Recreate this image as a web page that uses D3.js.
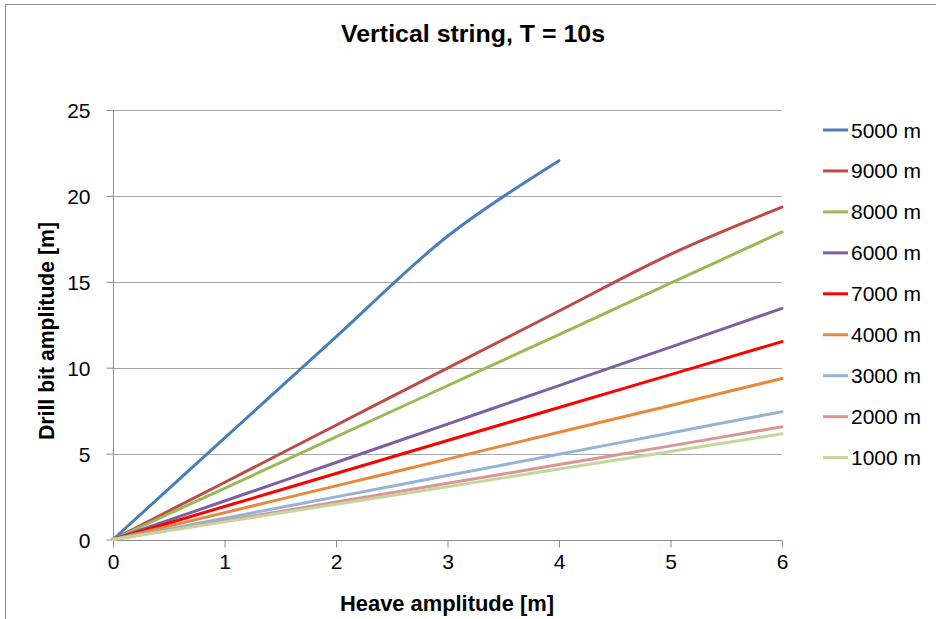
<!DOCTYPE html>
<html>
<head>
<meta charset="utf-8">
<script src="https://cdn.jsdelivr.net/npm/d3@7"></script>
<style>
  html, body { margin: 0; padding: 0; background: #fff; }
  svg { display: block; font-family: "Liberation Sans", Arial, sans-serif; }
</style>
</head>
<body>
<svg id="chart" width="936" height="619"></svg>
<script>
// ---- data ----
const heave = [0, 1, 2, 3, 4, 5, 6];
const seriesNames = ["5000 m", "9000 m", "8000 m", "6000 m", "7000 m", "4000 m", "3000 m", "2000 m", "1000 m"];
const s5000 = [0, 5.9, 11.8, 17.65, 22.05];
const s9000 = [0, 3.32, 6.65, 9.98, 13.3, 16.6, 19.35];
const s8000 = [0, 2.98, 5.97, 8.95, 11.93, 14.92, 17.9];
const s6000 = [0, 2.24, 4.48, 6.72, 8.96, 11.2, 13.45];
const s7000 = [0, 1.92, 3.84, 5.76, 7.68, 9.6, 11.52];
const s4000 = [0, 1.56, 3.12, 4.68, 6.24, 7.8, 9.37];
const s3000 = [0, 1.24, 2.48, 3.72, 4.96, 6.2, 7.44];
const s2000 = [0, 1.09, 2.18, 3.27, 4.36, 5.45, 6.56];
const s1000 = [0, 1.025, 2.05, 3.075, 4.1, 5.125, 6.15];
const seriesValues = [s5000, s9000, s8000, s6000, s7000, s4000, s3000, s2000, s1000];
const seriesColors = ["#4A7EBB", "#BE4B48", "#98B954", "#7D60A0", "#FF0000", "#E8883A", "#95B3D7", "#D99694", "#C3D69B"];
const xTicks = [0, 1, 2, 3, 4, 5, 6];
const yTicks = [0, 5, 10, 15, 20, 25];
const titleText = "Vertical string, T = 10s";
const xTitle = "Heave amplitude [m]";
const yTitle = "Drill bit amplitude [m]";

// ---- layout ----
const svg = d3.select("#chart");
const plot = { left: 113, right: 782, top: 110, bottom: 539.5 };

// chart frame (extends beyond visible area on right/bottom)
svg.append("rect")
  .attr("x", 5.5).attr("y", 4.5)
  .attr("width", 1000).attr("height", 700)
  .attr("fill", "#fff").attr("stroke", "#8C8C8C").attr("stroke-width", 1);

const x = d3.scaleLinear().domain([0, 6]).range([plot.left, plot.right]);
const y = d3.scaleLinear().domain([0, 25]).range([plot.bottom, plot.top]);

// gridlines
svg.append("g")
  .selectAll("line")
  .data(yTicks.filter(d => d > 0))
  .join("line")
  .attr("x1", plot.left).attr("x2", plot.right)
  .attr("y1", d => Math.round(y(d)) + 0.5).attr("y2", d => Math.round(y(d)) + 0.5)
  .attr("stroke", "#A6A6A6").attr("stroke-width", 1);

// axes
const xAxis = d3.axisBottom(x).tickValues(xTicks).tickSize(7).tickPadding(7).tickFormat(d3.format("d"));
const yAxis = d3.axisLeft(y).tickValues(yTicks).tickSize(7).tickPadding(16).tickFormat(d3.format("d"));

const gx = svg.append("g").attr("transform", `translate(0,${Math.round(plot.bottom) + 0.5})`).call(xAxis);
const gy = svg.append("g").attr("transform", `translate(${plot.left + 0.5},0)`).call(yAxis);
[gx, gy].forEach(g => {
  g.select(".domain").attr("stroke", "#8C8C8C").attr("stroke-width", 1);
  g.selectAll(".tick line").attr("stroke", "#8C8C8C");
  g.selectAll(".tick text").attr("fill", "#000").attr("font-size", 21)
    .attr("font-family", "'Liberation Sans', Arial, sans-serif");
});
gx.select(".domain").attr("d", `M${plot.left},0H${plot.right}`);
gy.select(".domain").attr("d", `M0,${plot.bottom}V${plot.top}`);
gy.selectAll(".tick text").attr("dy", "0.36em");
gx.selectAll(".tick text").attr("dy", "0.71em");

// lines
const line = d3.line()
  .x((d, i) => x(heave[i]))
  .y(d => y(d))
  .curve(d3.curveCatmullRom.alpha(0.5));

svg.append("g")
  .selectAll("path")
  .data(seriesValues)
  .join("path")
  .attr("d", d => line(d))
  .attr("fill", "none")
  .attr("stroke", (d, i) => seriesColors[i])
  .attr("stroke-width", 3)
  .attr("stroke-linejoin", "round")
  .attr("stroke-linecap", "round");

// legend
const legend = svg.append("g");
const legY0 = 130, legStep = 40.95;
seriesNames.forEach((name, i) => {
  const yy = legY0 + i * legStep;
  legend.append("line")
    .attr("x1", 823).attr("x2", 848)
    .attr("y1", yy).attr("y2", yy)
    .attr("stroke", seriesColors[i]).attr("stroke-width", 3);
  legend.append("text")
    .attr("x", 851).attr("y", yy + 7.5)
    .attr("font-size", 21).attr("fill", "#000")
    .text(name);
});

// title
svg.append("text")
  .attr("x", 473).attr("y", 42)
  .attr("text-anchor", "middle")
  .attr("font-size", 24.5).attr("font-weight", "bold")
  .attr("textLength", 264).attr("lengthAdjust", "spacingAndGlyphs")
  .text(titleText);

// axis titles
svg.append("text")
  .attr("x", 447).attr("y", 611)
  .attr("text-anchor", "middle")
  .attr("font-size", 21.5).attr("font-weight", "bold")
  .attr("textLength", 214).attr("lengthAdjust", "spacingAndGlyphs")
  .text(xTitle);

svg.append("text")
  .attr("transform", "translate(54,331) rotate(-90)")
  .attr("text-anchor", "middle")
  .attr("font-size", 21.5).attr("font-weight", "bold")
  .attr("textLength", 218).attr("lengthAdjust", "spacingAndGlyphs")
  .text(yTitle);
</script>
</body>
</html>
